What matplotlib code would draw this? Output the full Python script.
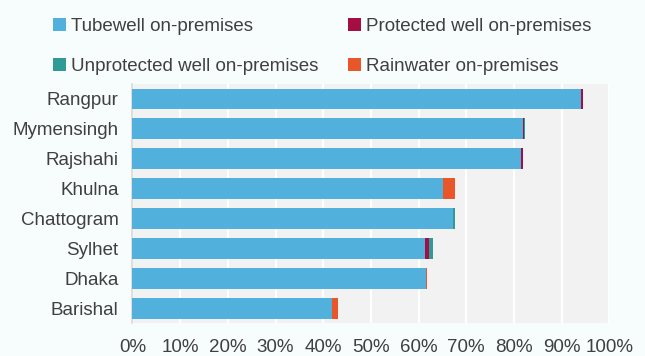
import numpy as np
import matplotlib.pyplot as plt
from matplotlib.ticker import FuncFormatter

plt.rcParams['font.family'] = ['Liberation Sans', 'DejaVu Sans']

divisions = ['Rangpur', 'Mymensingh', 'Rajshahi', 'Khulna',
             'Chattogram', 'Sylhet', 'Dhaka', 'Barishal']
tubewell = [94.1, 82.0, 81.4, 65.2, 67.2, 61.4, 61.5, 41.8]
protected = [0.3, 0.1, 0.4, 0.0, 0.0, 0.8, 0.0, 0.0]
unprotected = [0.0, 0.3, 0.0, 0.0, 0.4, 0.9, 0.0, 0.0]
rainwater = [0.0, 0.0, 0.0, 2.5, 0.0, 0.0, 0.2, 1.3]

series = [
    ('Tubewell on-premises', tubewell, '#52B0DD'),
    ('Protected well on-premises', protected, '#A50E45'),
    ('Unprotected well on-premises', unprotected, '#2F9A96'),
    ('Rainwater on-premises', rainwater, '#E8562A'),
]

bg = '#F7FCFC'
text_col = '#404040'

fig = plt.figure(figsize=(6.45, 3.56), dpi=100, facecolor=bg)
ax = fig.add_axes([0.2054, 0.0913, 0.7393, 0.6727])
ax.set_facecolor('#F2F2F2')

y = np.arange(len(divisions))
left = np.zeros(len(divisions))
handles = []
for name, vals, col in series:
    h = ax.barh(y, vals, left=left, height=0.7, color=col, label=name, zorder=3)
    handles.append(h)
    left += np.array(vals)

ax.set_xlim(0, 100)
ax.set_ylim(len(divisions) - 0.5, -0.5)
ax.set_xticks(np.arange(0, 101, 10))
ax.xaxis.set_major_formatter(FuncFormatter(lambda v, p: f'{v:.0f}%'))
ax.set_yticks(y)
ax.set_yticklabels(divisions)
ax.grid(axis='x', color='white', lw=1.6, zorder=1)
ax.tick_params(length=0, labelsize=13.5, colors=text_col)
ax.tick_params(axis='y', pad=10)
ax.tick_params(axis='x', pad=11)
for s in ['top', 'right', 'bottom']:
    ax.spines[s].set_visible(False)
ax.spines['left'].set_color('#D9D9D9')
ax.spines['left'].set_linewidth(1.2)

# legend fills column-wise, so order entries to read across rows
order = [0, 2, 1, 3]
leg = fig.legend(handles=[handles[i] for i in order],
                 labels=[series[i][0] for i in order], ncol=2,
                 loc='upper left', bbox_to_anchor=(0.062, 0.987),
                 frameon=False, fontsize=13.5, handlelength=0.7,
                 handleheight=0.7, handletextpad=0.25, columnspacing=1.6,
                 labelspacing=1.25, borderaxespad=0.3)
for t in leg.get_texts():
    t.set_color(text_col)

fig.savefig('out.png', dpi=100, facecolor=bg)
